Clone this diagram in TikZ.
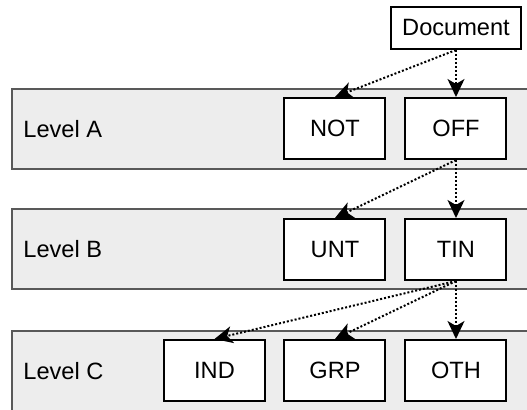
\documentclass[tikz,border=0pt]{standalone}
\usepackage{fontspec}
\setmainfont{Liberation Sans}
\usepackage{tikz}
\usetikzlibrary{arrows.meta}

\begin{document}
\begin{tikzpicture}[x=0.5pt,y=-0.5pt,
    every node/.style={font=\fontsize{11.8}{14}\selectfont},
    level/.style={draw=black!65,fill=black!7,line width=0.6pt},
    box/.style={draw=black,fill=white,line width=1pt,minimum width=50.5pt,minimum height=30.5pt,inner sep=0pt},
    link/.style={densely dotted,line width=1pt,-{Stealth[length=9pt,width=8.5pt,inset=2.5pt]}}]
	\useasboundingbox (0,0) rectangle (527,410);
	\clip (0,0) rectangle (527,410);
	\foreach \y/\l in {89/A,209/B,331/C}{
	  \draw[level] (12,\y) rectangle (540,\y+80);
	  \node[anchor=west,inner sep=0pt] (lev\l) at (23,\y+40) {Level \l};
	}
	\node[box,minimum width=65pt,minimum height=21pt] (doc) at (456,28) {Document};%
	\node[box] (nota) at (335,128.5) {NOT};%
	\node[box] (offa) at (456,128.5) {OFF};%
	\node[box] (unt) at (335,249.5) {UNT};%
	\node[box] (tin) at (456,249.5) {TIN};%
	\node[box] (ind) at (214.5,370.5) {IND};%
	\node[box] (grp) at (335,370.5) {GRP};%
	\node[box] (oth) at (456,370.5) {OTH};%
	\draw[link] (doc.south) -- (nota.north);
	\draw[link] (doc.south) -- (offa.north);
	\draw[link] (offa.south) -- (unt.north);
	\draw[link] (offa.south) -- (tin.north);
	\draw[link] (tin.south) -- (ind.north);
	\draw[link] (tin.south) -- (grp.north);
	\draw[link] (tin.south) -- (oth.north);
\end{tikzpicture}
\end{document}
